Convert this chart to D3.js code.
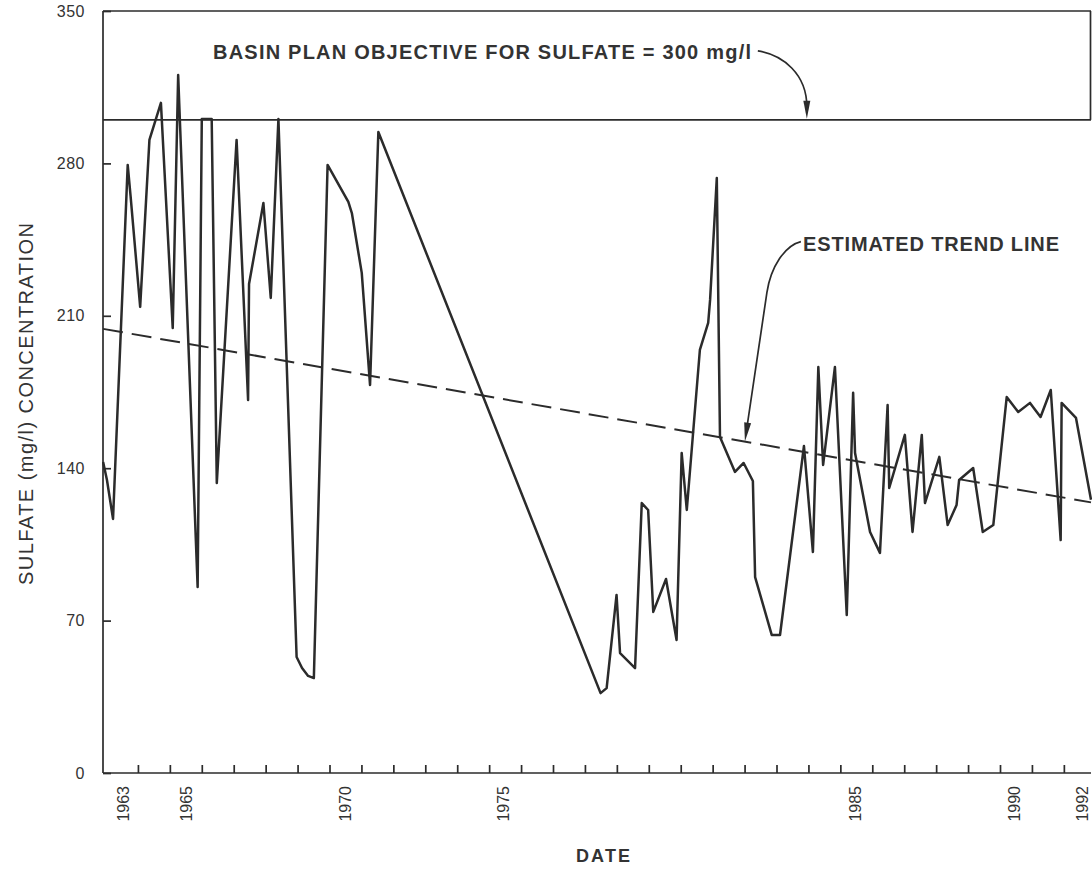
<!DOCTYPE html>
<html>
<head>
<meta charset="utf-8">
<script src="https://cdn.jsdelivr.net/npm/d3@7"></script>
<style>
  body { margin: 0; background: #fff; }
  svg { display: block; }
  text { font-family: "Liberation Sans", Arial, sans-serif; fill: #333; }
</style>
</head>
<body>
<div id="chart"></div>
<script>
// sample dates (decimal years) and sulfate concentration (mg/l)
var dates = [1962.91, 1963.03, 1963.22, 1963.68, 1963.77, 1964.07, 1964.36, 1964.72, 1965.09, 1965.26,
    1965.87, 1966.00, 1966.31, 1966.47, 1967.09, 1967.45, 1967.48, 1967.93, 1968.16, 1968.40,
    1968.97, 1969.14, 1969.33, 1969.51, 1969.94, 1970.59, 1970.70, 1971.01, 1971.27, 1971.53,
    1978.49, 1978.68, 1978.99, 1979.10, 1979.57, 1979.78, 1979.98, 1980.14, 1980.54, 1980.87,
    1981.03, 1981.19, 1981.60, 1981.86, 1981.92, 1982.13, 1982.23, 1982.70, 1982.97, 1983.26,
    1983.33, 1983.85, 1984.11, 1984.86, 1985.14, 1985.31, 1985.46, 1985.83, 1986.20, 1986.40,
    1986.46, 1986.93, 1987.24, 1987.48, 1987.53, 1988.02, 1988.26, 1988.55, 1988.65, 1989.10,
    1989.36, 1989.64, 1989.72, 1990.16, 1990.46, 1990.79, 1991.21, 1991.57, 1991.94, 1992.27,
    1992.59, 1992.90, 1992.93, 1993.38, 1993.85];
var sulfate = [142.9, 134.6, 116.7, 279.3, 265.0, 214.1, 290.8, 307.8, 204.4, 320.6,
    85.4, 300.4, 300.4, 133.2, 290.8, 171.3, 224.6, 261.8, 218.2, 300.4,
    53.3, 48.2, 44.6, 43.6, 279.3, 262.3, 257.2, 229.7, 178.2, 294.4,
    36.7, 39.0, 81.8, 55.1, 48.2, 124.0, 120.8, 74.0, 89.1, 61.1,
    147.0, 120.8, 194.3, 206.7, 217.3, 273.3, 154.3, 138.3, 142.4, 134.1,
    90.0, 63.4, 63.4, 150.2, 101.5, 186.5, 141.5, 186.5, 72.6, 174.6,
    147.0, 110.7, 101.1, 169.0, 130.9, 155.3, 110.7, 155.3, 124.0, 145.2,
    113.9, 123.1, 134.6, 140.1, 110.7, 113.9, 172.7, 165.8, 170.0, 163.5,
    175.9, 107.0, 170.0, 163.1, 125.5];

// estimated trend line (two end points)
var trendDates = [1962.91, 1993.85];
var trendValues = [204.0, 124.3];

var objective = 300;

var yTicks = [0, 70, 140, 210, 280, 350];
var yearTicks = [1964, 1965, 1966, 1967, 1968, 1969, 1970, 1971, 1972, 1973,
    1974, 1975, 1976, 1977, 1978, 1979, 1980, 1981, 1982, 1983,
    1984, 1985, 1986, 1987, 1988, 1989, 1990, 1991, 1992, 1993];
var yearLabels = ["1963", "1965", "1970", "1975", "1985", "1990", "1992"];
// where each label sits along the date axis in the original drawing
var yearLabelAt = [1963.56, 1965.52, 1970.51, 1975.46, 1986.46, 1991.45, 1993.57];

var W = 1092, H = 871;
var margin = {top: 11, right: 1, bottom: 98, left: 103};
var ink = "#2b2b2b";

var svg = d3.select("#chart").append("svg")
    .attr("width", W)
    .attr("height", H);
svg.append("rect").attr("width", W).attr("height", H).attr("fill", "#fff");

var x = d3.scaleLinear()
    .domain([1962.906, 1993.85])
    .range([margin.left, W - margin.right]);
var y = d3.scaleLinear()
    .domain([0, 350])
    .range([H - margin.bottom, margin.top]);

// frame: left, bottom, top and the short right edge of the upper box
var x0 = x.range()[0], x1 = x.range()[1];
var frame = svg.append("g")
    .attr("stroke", ink)
    .attr("stroke-width", 1.7)
    .attr("fill", "none");
frame.append("line").attr("x1", x0).attr("x2", x0).attr("y1", y(350)).attr("y2", y(0));
frame.append("line").attr("x1", x0).attr("x2", x1).attr("y1", y(0)).attr("y2", y(0));
frame.append("line").attr("x1", x0).attr("x2", x1).attr("y1", y(350)).attr("y2", y(350));
frame.append("line").attr("x1", x1 - 0.5).attr("x2", x1 - 0.5).attr("y1", y(350)).attr("y2", y(objective));

// objective line
svg.append("line")
    .attr("x1", x0).attr("x2", x1)
    .attr("y1", y(objective)).attr("y2", y(objective))
    .attr("stroke", ink)
    .attr("stroke-width", 1.9);

// y axis ticks point into the plot
var yAxis = svg.append("g")
    .attr("transform", "translate(" + x0 + ",0)")
    .call(d3.axisLeft(y).tickValues(yTicks).tickSizeInner(-8).tickSizeOuter(0).tickPadding(18));
yAxis.select(".domain").remove();
yAxis.selectAll("line").attr("stroke", ink).attr("stroke-width", 1.7);
yAxis.selectAll("text")
    .style("font-family", "'Liberation Sans', Arial, sans-serif")
    .style("font-size", "16px")
    .style("letter-spacing", "0.5px")
    .attr("fill", "#444");

// x axis ticks, one per year, pointing up
var xAxis = svg.append("g")
    .attr("transform", "translate(0," + y(0) + ")")
    .call(d3.axisBottom(x).tickValues(yearTicks).tickSizeInner(-8).tickSizeOuter(0).tickFormat(""));
xAxis.select(".domain").remove();
xAxis.selectAll("line").attr("stroke", ink).attr("stroke-width", 1.7);

// rotated year labels
svg.append("g")
    .selectAll("text")
    .data(yearLabels)
    .enter()
    .append("text")
    .attr("transform", function (d, i) {
        return "translate(" + x(yearLabelAt[i]) + "," + (y(0) + 13) + ") rotate(-90)";
    })
    .attr("text-anchor", "end")
    .attr("dy", "0.35em")
    .style("font-size", "16px")
    .attr("fill", "#444")
    .text(function (d) { return d; });

// trend line (dashed)
var trend = d3.zip(trendDates, trendValues);
svg.append("path")
    .datum(trend)
    .attr("fill", "none")
    .attr("stroke", ink)
    .attr("stroke-width", 2)
    .attr("stroke-dasharray", "20,9")
    .attr("d", d3.line().x(function (d) { return x(d[0]); }).y(function (d) { return y(d[1]); }));

// sulfate record
var series = d3.zip(dates, sulfate);
svg.append("path")
    .datum(series)
    .attr("fill", "none")
    .attr("stroke", ink)
    .attr("stroke-width", 2.5)
    .attr("stroke-linejoin", "round")
    .attr("d", d3.line().x(function (d) { return x(d[0]); }).y(function (d) { return y(d[1]); }));

// arrowhead helper: tip point, direction point it comes from
function arrowHead(tip, from, len, half) {
    var dx = tip[0] - from[0], dy = tip[1] - from[1];
    var l = Math.sqrt(dx * dx + dy * dy);
    var ux = dx / l, uy = dy / l;
    var bx = tip[0] - ux * len, by = tip[1] - uy * len;
    return "M" + tip[0] + "," + tip[1] +
        "L" + (bx - uy * half) + "," + (by + ux * half) +
        "L" + (bx + uy * half) + "," + (by - ux * half) + "Z";
}

// annotation: objective
svg.append("text")
    .attr("x", 213)
    .attr("y", 59)
    .attr("textLength", 538)
    .attr("lengthAdjust", "spacing")
    .style("font-size", "20px")
    .style("font-weight", "bold")
    .text("BASIN PLAN OBJECTIVE FOR SULFATE = 300 mg/l");

var tip1 = [x(1984.95), y(objective) - 1];
svg.append("path")
    .attr("fill", "none")
    .attr("stroke", ink)
    .attr("stroke-width", 1.7)
    .attr("d", "M" + (tip1[0] - 49) + "," + (tip1[1] - 68) +
        "C" + (tip1[0] - 24) + "," + (tip1[1] - 64) + " " +
        tip1[0] + "," + (tip1[1] - 45) + " " + tip1[0] + "," + (tip1[1] - 12));
svg.append("path")
    .attr("fill", ink)
    .attr("d", arrowHead(tip1, [tip1[0], tip1[1] - 20], 18, 3.5));

// annotation: trend line
svg.append("text")
    .attr("x", 803)
    .attr("y", 251)
    .attr("textLength", 256)
    .attr("lengthAdjust", "spacing")
    .style("font-size", "20px")
    .style("font-weight", "bold")
    .text("ESTIMATED TREND LINE");

var tYear = 1983.01;
var tip2 = [x(tYear), y(trendValues[0] + (trendValues[1] - trendValues[0]) * (tYear - trendDates[0]) / (trendDates[1] - trendDates[0]))];
svg.append("path")
    .attr("fill", "none")
    .attr("stroke", ink)
    .attr("stroke-width", 1.7)
    .attr("d", "M" + (tip2[0] + 56) + "," + (tip2[1] - 200) +
        "C" + (tip2[0] + 40) + "," + (tip2[1] - 196) + " " +
        (tip2[0] + 26) + "," + (tip2[1] - 175) + " " +
        (tip2[0] + 22) + "," + (tip2[1] - 149) +
        "L" + (tip2[0] + 2) + "," + (tip2[1] - 14));
svg.append("path")
    .attr("fill", ink)
    .attr("d", arrowHead(tip2, [tip2[0] + 22, tip2[1] - 149], 19, 3.5));

// axis titles
svg.append("text")
    .attr("transform", "translate(33," + ((y(0) + y(350)) / 2 + 12) + ") rotate(-90)")
    .attr("text-anchor", "middle")
    .attr("textLength", 362)
    .attr("lengthAdjust", "spacing")
    .style("font-size", "20px")
    .text("SULFATE (mg/l) CONCENTRATION");

svg.append("text")
    .attr("x", 603)
    .attr("y", 862)
    .attr("text-anchor", "middle")
    .attr("textLength", 54)
    .attr("lengthAdjust", "spacing")
    .style("font-size", "18px")
    .style("font-weight", "bold")
    .text("DATE");
</script>
</body>
</html>
